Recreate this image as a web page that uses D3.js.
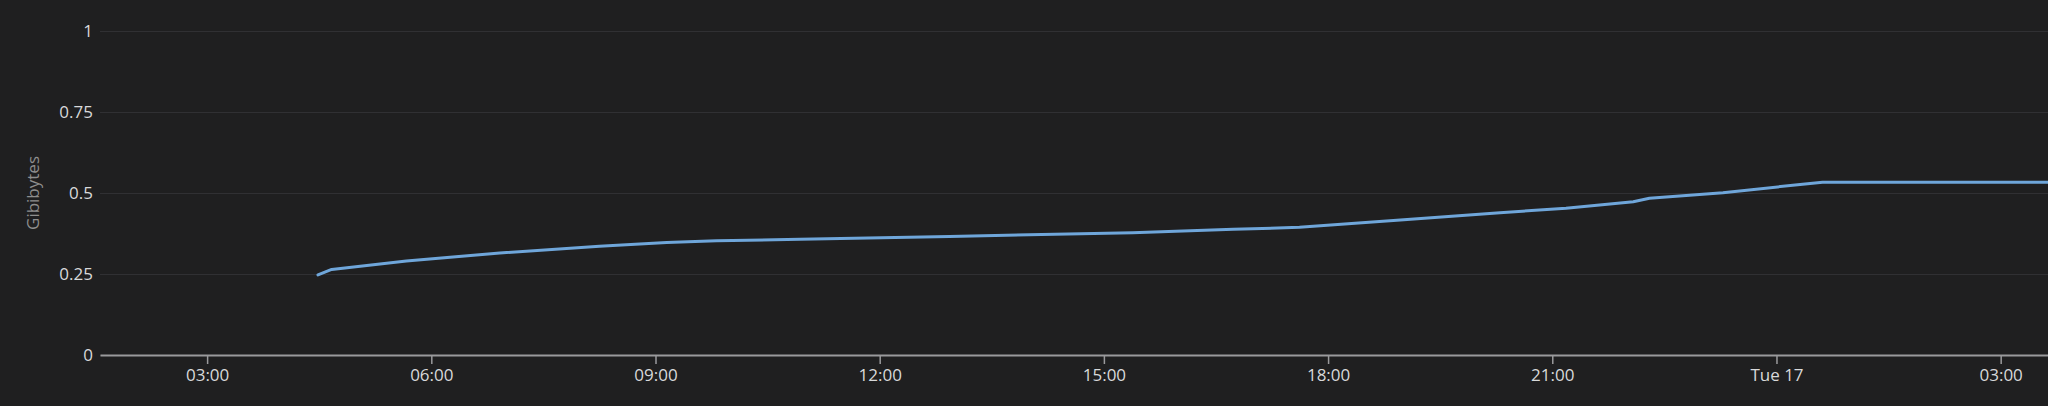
<!DOCTYPE html>
<html>
  <head>
    <meta charset="utf-8">
    <title>Gibibytes</title>
    <style>
      html, body { margin: 0; padding: 0; background: #1f1f20; }
      svg { display: block; }
    </style>
  </head>
  <body>
    <script src="https://d3js.org/d3.v7.min.js"></script>
    <svg id="chart" width="2048" height="406"></svg>
    <script>
      // sample times and values (GiB)
      const times = [
        '2023-10-16T04:29', '2023-10-16T04:40', '2023-10-16T05:40', '2023-10-16T06:55',
        '2023-10-16T08:15', '2023-10-16T09:09', '2023-10-16T09:49', '2023-10-16T10:56',
        '2023-10-16T12:56', '2023-10-16T15:23', '2023-10-16T16:44', '2023-10-16T17:37',
        '2023-10-16T18:58', '2023-10-16T20:18', '2023-10-16T21:11', '2023-10-16T22:05',
        '2023-10-16T22:18', '2023-10-16T23:17', '2023-10-17T00:21', '2023-10-17T00:37',
        '2023-10-17T03:40'
      ]
      const values = [
        0.247, 0.264, 0.290, 0.315,
        0.336, 0.347, 0.353, 0.357,
        0.366, 0.377, 0.388, 0.394,
        0.417, 0.439, 0.453, 0.473,
        0.484, 0.501, 0.527, 0.533,
        0.533
      ]
      const yTicks = [0, 0.25, 0.5, 0.75, 1]
      const yLabel = 'Gibibytes'
      const timeRange = ['2023-10-16T01:34', '2023-10-17T03:38']

      const parse = d3.isoParse
      const data = times.map((t, i) => ({ t: parse(t), v: values[i] }))

      const svg = d3.select('#chart')
      const margin = { left: 100, right: 0, top: 31, bottom: 51 }
      const W = 2048, H = 406

      const x = d3.scaleTime()
        .domain(timeRange.map(parse))
        .range([margin.left, W - margin.right])
      const y = d3.scaleLinear()
        .domain([0, 1])
        .range([H - margin.bottom, margin.top])

      const font = '"Open Sans", "Noto Sans", sans-serif'

      // horizontal grid + y labels
      const yAxis = svg.append('g')
        .attr('transform', `translate(${margin.left},0)`)
        .call(d3.axisLeft(y).tickValues(yTicks).tickSize(-(W - margin.left - margin.right)).tickPadding(7)
          .tickFormat(d3.format('~g')))
      yAxis.select('.domain').remove()
      yAxis.selectAll('.tick line').attr('stroke', '#303033').attr('stroke-width', 1)
      yAxis.selectAll('.tick text')
        .attr('fill', '#d8d9da').style('font-family', font).style('font-size', '17px')

      svg.append('text')
        .attr('transform', `translate(32,${(y(0) + y(1)) / 2}) rotate(-90)`)
        .attr('text-anchor', 'middle')
        .attr('dominant-baseline', 'central')
        .attr('fill', '#8e8e8e')
        .style('font-family', font).style('font-size', '17px')
        .text(yLabel)

      // x axis
      const fmt = d => (d.getHours() === 0 ? d3.timeFormat('%a %d')(d) : d3.timeFormat('%H:%M')(d))
      const xAxis = svg.append('g')
        .attr('transform', `translate(0,${y(0)})`)
        .call(d3.axisBottom(x).ticks(d3.timeHour.every(3)).tickFormat(fmt).tickSize(9).tickSizeOuter(0).tickPadding(5))
      xAxis.select('.domain').attr('stroke', '#9a9a9c').attr('stroke-width', 2)
      xAxis.selectAll('.tick line').attr('stroke', '#9a9a9c').attr('stroke-width', 1.5)
      xAxis.selectAll('.tick text')
        .attr('fill', '#d8d9da').style('font-family', font).style('font-size', '17px')

      // series line
      svg.append('path')
        .datum(data)
        .attr('fill', 'none')
        .attr('stroke', '#6fa6da')
        .attr('stroke-width', 3)
        .attr('stroke-linejoin', 'round')
        .attr('stroke-linecap', 'round')
        .attr('d', d3.line().x(d => x(d.t)).y(d => y(d.v)))
    </script>
  </body>
</html>
